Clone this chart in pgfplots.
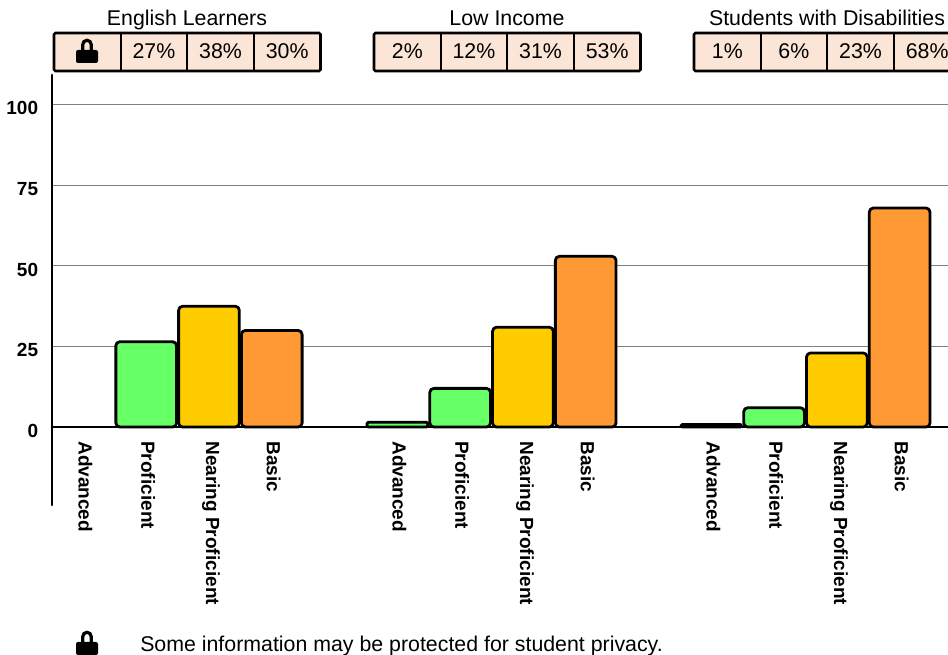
\documentclass[border=0pt]{standalone}
\usepackage{pgfplots}
\pgfplotsset{compat=1.18}
\usepackage{fontspec}
\setmainfont{Liberation Sans}
\definecolor{cellbg}{HTML}{FBE5D6}
\definecolor{lvlgreen}{HTML}{66FF66}
\definecolor{lvlyellow}{HTML}{FFCC00}
\definecolor{lvlorange}{HTML}{FF9933}
\newcommand{\hdfont}{\fontsize{16}{18}\selectfont}
\newcommand{\tkfont}{\fontsize{14.25}{16}\selectfont\bfseries}
% lock icon, #1 = centre x, #2 = bottom of body, coordinates in px with y up
\newcommand{\lock}[2]{%
  \draw[black,line width=2.4] (#1-4.2,#2+12) -- (#1-4.2,#2+18.5) arc[start angle=180,end angle=0,radius=4.2] -- (#1+4.2,#2+12);
  \fill[black,rounded corners=1.5] (#1-11,#2) rectangle (#1+11,#2+13);
}
% row of four cells, #1 = left edge, #2..#5 = texts
\newcommand{\cells}[5]{%
  \fill[cellbg] (#1,584) rectangle (#1+266.5,622);
  \draw[black,line width=1.4] (#1+66.6,584) -- (#1+66.6,622) (#1+133.2,584) -- (#1+133.2,622) (#1+199.9,584) -- (#1+199.9,622);
  \draw[black,line width=1.9,rounded corners=1] (#1,584) rectangle (#1+266.5,622);
  \node[anchor=base,inner sep=0pt,font=\hdfont] at (#1+33.3,596) {#2};
  \node[anchor=base,inner sep=0pt,font=\hdfont] at (#1+99.9,596) {#3};
  \node[anchor=base,inner sep=0pt,font=\hdfont] at (#1+166.5,596) {#4};
  \node[anchor=base,inner sep=0pt,font=\hdfont] at (#1+233.2,596) {#5};
}
\begin{document}
\begin{tikzpicture}[x=0.75pt,y=0.75pt]
\useasboundingbox (0,0) rectangle (948,655);
\begin{axis}[
    at={(39pt,112.5pt)},
    anchor=south west,
    scale only axis,
    width=672pt,
    height=322.5pt,
    clip=false,
    xmin=-0.5, xmax=13.77,
    ymin=-24.2, ymax=109.3,
    axis y line=left,
    axis x line=middle,
    axis line style={-,line width=2.1pt,line cap=round},
    ybar,
    bar width=45.5pt,
    bar shift=0pt,
    xtick={0,1,2,3,5,6,7,8,10,11,12,13},
    xticklabels={Advanced,Proficient,Nearing Proficient,Basic,Advanced,Proficient,Nearing Proficient,Basic,Advanced,Proficient,Nearing Proficient,Basic},
    x tick label style={rotate=-90,anchor=west,inner sep=0pt,font=\tkfont,yshift=1.5pt},
    xticklabel shift=10.5pt,
    ytick={0,25,50,75,100},
    y tick label style={font=\tkfont,inner sep=0pt,yshift=-2.6pt},
    yticklabel shift=10.2pt,
    /pgf/number format/assume math mode=true,
    major tick length=0pt,
    ymajorgrids,
    grid style={gray,line width=0.75pt},
    every axis plot/.append style={draw=black,line width=2.1pt,line join=round},
]
\addplot[fill=lvlgreen,rounded corners=1pt] coordinates {(5,1.5) (10,0.8)};
\addplot[fill=lvlgreen,rounded corners=3pt] coordinates {(1,26.5) (6,12) (11,6)};
\addplot[fill=lvlyellow,rounded corners=3pt] coordinates {(2,37.5) (7,31) (12,23)};
\addplot[fill=lvlorange,rounded corners=3pt] coordinates {(3,30) (8,53) (13,68)};
\end{axis}
\node[anchor=base,inner sep=0pt,font=\hdfont] at (187,629.5) {English Learners};
\node[anchor=base,inner sep=0pt,font=\hdfont] at (507,629.5) {Low Income};
\node[anchor=base,inner sep=0pt,font=\hdfont] at (827,629.5) {Students with Disabilities};
\cells{54}{}{27\%}{38\%}{30\%}
\cells{374}{2\%}{12\%}{31\%}{53\%}
\cells{694}{1\%}{6\%}{23\%}{68\%}
\lock{87}{592}
\lock{87}{0}
\node[anchor=base west,inner sep=0pt,font=\hdfont] at (140,3) {Some information may be protected for student privacy.};
\end{tikzpicture}
\end{document}
